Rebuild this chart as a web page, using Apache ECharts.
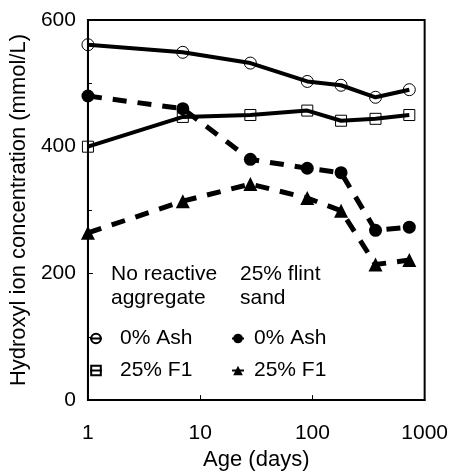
<!DOCTYPE html>
<html>
<head>
<meta charset="utf-8">
<script src="https://cdn.jsdelivr.net/npm/echarts@6/dist/echarts.min.js"></script>
<style>html,body{margin:0;padding:0;background:#fff;}#c{width:451px;height:476px;}</style>
</head>
<body>
<div id="c"></div>
<script>
// Age (days), log scale
const days = [1, 7, 28, 90, 180, 365, 730];
const xTicks = [1, 10, 100, 1000];
const yTicks = [0, 200, 400, 600];
// No reactive aggregate
const ashNoReactive = [561, 549, 532, 503, 497, 478, 490];
const f1NoReactive  = [400, 447, 450, 457, 441, 444, 450];
// 25% flint sand
const ashFlint = [480, 460, 380, 366, 359, 268, 273];
const f1Flint  = [264, 314, 341, 319, 299, 214, 221];

const FONT = 'Liberation Sans, Arial, sans-serif';
const pair = (ys) => days.map((d, i) => [d, ys[i]]);

const chart = echarts.init(document.getElementById('c'), null, {renderer: 'canvas'});
const legendFmt = (n) => n.split('|')[0];

chart.setOption({
  animation: false,
  backgroundColor: '#fff',
  textStyle: {fontFamily: FONT, color: '#000'},
  grid: {left: 85, right: 16, top: 20, bottom: 67, show: true, borderColor: '#000', borderWidth: 2, backgroundColor: 'transparent'},
  xAxis: {
    type: 'log', logBase: 10, min: xTicks[0], max: xTicks[xTicks.length - 1],
    name: 'Age (days)', nameLocation: 'middle', nameGap: 46,
    nameTextStyle: {fontSize: 22, fontFamily: FONT, color: '#000'},
    axisLine: {lineStyle: {color: '#000', width: 2}},
    axisTick: {inside: true, length: 5, lineStyle: {color: '#000', width: 1}},
    minorTick: {show: false},
    splitLine: {show: false},
    axisLabel: {fontSize: 21, color: '#000', margin: 23, fontFamily: FONT, formatter: (v) => String(v)}
  },
  yAxis: {
    type: 'value', min: yTicks[0], max: yTicks[yTicks.length - 1], interval: 200,
    name: 'Hydroxyl ion concentration (mmol/L)', nameLocation: 'middle', nameGap: 52,
    nameTextStyle: {fontSize: 22, fontFamily: FONT, color: '#000'},
    axisLine: {lineStyle: {color: '#000', width: 2}},
    axisTick: {inside: true, length: 5, lineStyle: {color: '#000', width: 1}},
    minorTick: {show: true, splitNumber: 2, length: 4, lineStyle: {color: '#000', width: 1}},
    splitLine: {show: false},
    axisLabel: {fontSize: 21, color: '#000', margin: 12, fontFamily: FONT}
  },
  legend: [
    {
      data: ['0% Ash|NR', '25% F1|NR'], orient: 'vertical', left: 84, top: 323,
      itemWidth: 12, itemHeight: 12, itemGap: 11, formatter: legendFmt,
      textStyle: {fontSize: 21, color: '#000', fontFamily: FONT, padding: [0, 0, 0, 13]}
    },
    {
      data: ['0% Ash|FS', '25% F1|FS'], orient: 'vertical', left: 226, top: 323,
      itemWidth: 12, itemHeight: 12, itemGap: 11, formatter: legendFmt,
      textStyle: {fontSize: 21, color: '#000', fontFamily: FONT, padding: [0, 0, 0, 5]}
    }
  ],
  graphic: [
    {type: 'text', left: 111, top: 262, style: {text: 'No reactive\naggregate', font: '21px ' + FONT, fill: '#000', lineHeight: 24}},
    {type: 'text', left: 240, top: 262, style: {text: '25% flint\nsand', font: '21px ' + FONT, fill: '#000', lineHeight: 24}}
  ],
  series: [
    {
      name: '0% Ash|NR', type: 'line', data: pair(ashNoReactive), clip: false,
      symbol: 'circle', symbolSize: 12,
      lineStyle: {color: '#000', width: 4},
      itemStyle: {color: 'rgba(255,255,255,0)', borderColor: '#000', borderWidth: 1}
    },
    {
      name: '25% F1|NR', type: 'line', data: pair(f1NoReactive), clip: false,
      symbol: 'rect', symbolSize: 11,
      lineStyle: {color: '#000', width: 4},
      itemStyle: {color: 'rgba(255,255,255,0)', borderColor: '#000', borderWidth: 1}
    },
    {
      name: '0% Ash|FS', type: 'line', data: pair(ashFlint), clip: false,
      symbol: 'circle', symbolSize: 13,
      lineStyle: {color: '#000', width: 5, type: [14, 11]},
      itemStyle: {color: '#000', borderColor: '#000', borderWidth: 0}
    },
    {
      name: '25% F1|FS', type: 'line', data: pair(f1Flint), clip: false,
      symbol: 'triangle', symbolSize: 14,
      lineStyle: {color: '#000', width: 5, type: [14, 11]},
      itemStyle: {color: '#000', borderColor: '#000', borderWidth: 0}
    }
  ]
});
</script>
</body>
</html>
